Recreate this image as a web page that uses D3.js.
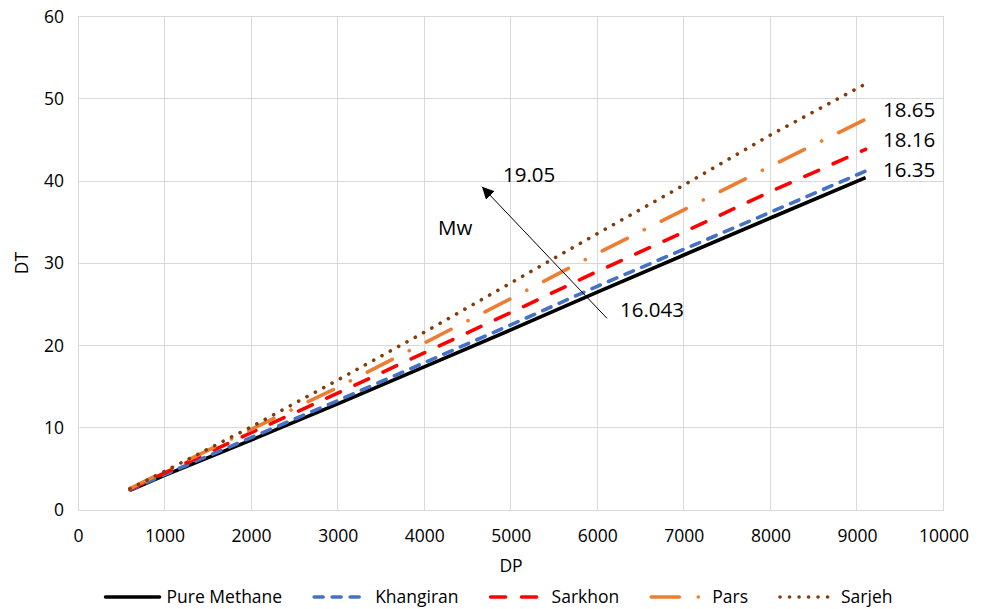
<!DOCTYPE html>
<html><head><meta charset="utf-8">
<script src="https://cdn.jsdelivr.net/npm/d3@7"></script>
<style>
body{margin:0;background:#fff;}
svg{display:block;font-family:"Open Sans","Noto Sans",sans-serif;}
</style></head>
<body><svg id="c" width="983" height="609"></svg>
<script>
const dp = [600, 1000, 2000, 3000, 4000, 5000, 6000, 7000, 8000, 9100];
const pureMethane = [2.4, 4.2, 8.5, 12.9, 17.4, 21.9, 26.5, 31.0, 35.5, 40.4];
const khangiran   = [2.45, 4.3, 8.8, 13.3, 17.9, 22.5, 27.2, 31.7, 36.2, 41.2];
const sarkhon     = [2.5, 4.5, 9.4, 14.2, 19.1, 24.0, 29.0, 33.8, 38.7, 43.85];
const pars        = [2.6, 4.7, 9.8, 14.9, 20.3, 25.7, 31.2, 36.5, 41.8, 47.5];
const sarjeh      = [2.6, 4.7, 10.1, 15.8, 21.6, 27.6, 33.6, 39.5, 45.6, 51.8];
const seriesNames = ["Pure Methane", "Khangiran", "Sarkhon", "Pars", "Sarjeh"];
const xTicks = [0,1000,2000,3000,4000,5000,6000,7000,8000,9000,10000];
const yTicks = [0,10,20,30,40,50,60];
const endLabels = [{t:"18.65", x:9301, y:48.6},{t:"18.16", x:9301, y:45.0},{t:"16.35", x:9301, y:41.3}];
const arrowFrom = [6112, 23.3], arrowTo = [4668, 39.3];
const arrowLabels = [{t:"19.05", x:4910, y:40.7},{t:"Mw", x:4160, y:34.3},{t:"16.043", x:6262, y:24.3}];

const styles = [
  {color:"#000000", dash:null, w:3.6, cap:"butt"},
  {color:"#4472C4", dash:"9,9", w:3.6, cap:"round"},
  {color:"#FF0000", dash:"15,16", w:3.6, cap:"round"},
  {color:"#ED7D31", dash:"28,19,0.1,19", w:3.6, cap:"round"},
  {color:"#843C0C", dash:"0.1,9.4", w:3.6, cap:"round"}
];
const values = [pureMethane, khangiran, sarkhon, pars, sarjeh];

const svg = d3.select("#c");
const x = d3.scaleLinear().domain([0,10000]).range([78,943.5]);
const y = d3.scaleLinear().domain([0,60]).range([510,16.5]);
const grid = "#d9d9d9";

// gridlines
svg.append("g").selectAll("line").data(xTicks).join("line")
  .attr("x1",d=>x(d)).attr("x2",d=>x(d)).attr("y1",y(0)).attr("y2",y(60))
  .attr("stroke",grid).attr("stroke-width",1).attr("shape-rendering","crispEdges");
svg.append("g").selectAll("line").data(yTicks).join("line")
  .attr("y1",d=>y(d)).attr("y2",d=>y(d)).attr("x1",x(0)).attr("x2",x(10000))
  .attr("stroke",grid).attr("stroke-width",1).attr("shape-rendering","crispEdges");

// axes labels
const xa = svg.append("g").attr("transform",`translate(0,${y(0)})`)
  .call(d3.axisBottom(x).tickValues(xTicks).tickSize(0).tickPadding(0).tickFormat(d3.format("d")));
xa.select(".domain").remove();
xa.selectAll("text").attr("dy",null).attr("y",32).attr("font-size",17.5).attr("fill","#000").attr("font-family","Open Sans");
const ya = svg.append("g").attr("transform",`translate(${x(0)},0)`)
  .call(d3.axisLeft(y).tickValues(yTicks).tickSize(0).tickPadding(14).tickFormat(d3.format("d")));
ya.select(".domain").remove();
ya.selectAll("text").attr("font-size",17.5).attr("fill","#000").attr("font-family","Open Sans");

svg.append("text").attr("x",511).attr("y",572).attr("text-anchor","middle").attr("font-size",17.5).text("DP");
svg.append("text").attr("transform","translate(28,263) rotate(-90)").attr("text-anchor","middle").attr("font-size",17.5).text("DT");

// series
const line = d3.line().x(d=>x(d[0])).y(d=>y(d[1]));
values.forEach((v,i)=>{
  const s = styles[i];
  svg.append("path").datum(dp.map((d,j)=>[d,v[j]])).attr("d",line)
    .attr("fill","none").attr("stroke",s.color).attr("stroke-width",s.w)
    .attr("stroke-linecap",s.cap).attr("stroke-linejoin","round")
    .attr("stroke-dasharray",s.dash);
});

// annotations
endLabels.forEach(l=>svg.append("text").attr("x",x(l.x)).attr("y",y(l.y)).attr("dy","0.35em").attr("font-size",20.5).text(l.t));
arrowLabels.forEach(l=>svg.append("text").attr("x",x(l.x)).attr("y",y(l.y)).attr("dy","0.35em").attr("font-size",20.5).text(l.t));
svg.append("defs").append("marker").attr("id","ah").attr("viewBox","0 0 10 10").attr("refX",10).attr("refY",5)
  .attr("markerWidth",12).attr("markerHeight",12).attr("markerUnits","userSpaceOnUse").attr("orient","auto")
  .append("path").attr("d","M0,0 L10,5 L0,10 z").attr("fill","#000");
svg.append("line").attr("x1",x(arrowFrom[0])).attr("y1",y(arrowFrom[1])).attr("x2",x(arrowTo[0])).attr("y2",y(arrowTo[1]))
  .attr("stroke","#000").attr("stroke-width",1).attr("marker-end","url(#ah)");

// legend
const lg = svg.append("g");
let cx = 0;
const items = [];
seriesNames.forEach((n,i)=>{
  const g = lg.append("g");
  const s = styles[i];
  g.append("line").attr("x1",2).attr("x2",56).attr("y1",0).attr("y2",0)
    .attr("stroke",s.color).attr("stroke-width",s.w).attr("stroke-linecap",s.cap==="butt"?"round":s.cap)
    .attr("stroke-dasharray",s.dash);
  const t = g.append("text").attr("x",63).attr("dy","0.35em").attr("font-size",17.5).text(n);
  const w = 63 + t.node().getComputedTextLength();
  items.push({g,w});
});
const gap = 30;
const total = d3.sum(items,d=>d.w) + gap*(items.length-1);
let px = 498 - total/2;
items.forEach(it=>{ it.g.attr("transform",`translate(${px},597)`); px += it.w + gap; });
</script></body></html>
